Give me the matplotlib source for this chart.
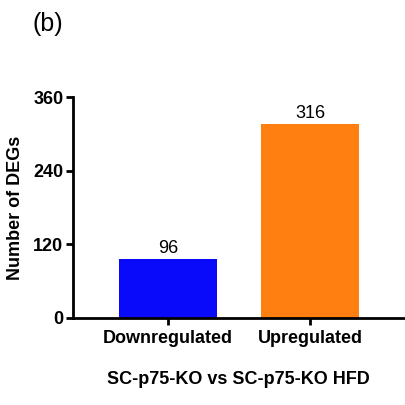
import matplotlib
matplotlib.use("Agg")
import matplotlib.pyplot as plt

categories = ["Downregulated", "Upregulated"]
counts = [96, 316]
colors = ["#0A0AFA", "#FF8010"]
yticks = [0, 120, 240, 360]

plt.rcParams['font.family'] = ['Liberation Sans', 'DejaVu Sans']

fig = plt.figure(figsize=(4.06, 4.05), dpi=100)
ax = fig.add_axes([0.180, 0.215, 0.815, 0.545])

x = range(len(categories))
bars = ax.bar(x, counts, width=0.69, color=colors)

for b, v in zip(bars, counts):
    ax.text(b.get_x() + b.get_width() / 2, v + 3, str(v),
            ha='center', va='bottom', fontsize=13)

ax.set_xlim(-0.67, 1.66)
ax.set_ylim(0, 360)
ax.set_yticks(yticks)
ax.set_xticks(list(x))
ax.set_xticklabels(categories, fontsize=13, fontweight='bold')
for lab in ax.get_yticklabels():
    lab.set_fontweight('bold')
    lab.set_fontsize(13)

ax.spines['top'].set_visible(False)
ax.spines['right'].set_visible(False)
ax.spines['left'].set_linewidth(2)
ax.spines['bottom'].set_linewidth(2)
ax.tick_params(width=2, length=5, pad=2)
ax.tick_params(axis='x', pad=4)

ax.set_ylabel("Number of DEGs", fontsize=13, fontweight='bold', labelpad=7)
ax.set_xlabel("SC-p75-KO vs SC-p75-KO HFD", fontsize=13, fontweight='bold', labelpad=17)

fig.text(0.08, 0.94, "(b)", fontsize=18, ha='left', va='center')

fig.savefig("out.png", dpi=100)
